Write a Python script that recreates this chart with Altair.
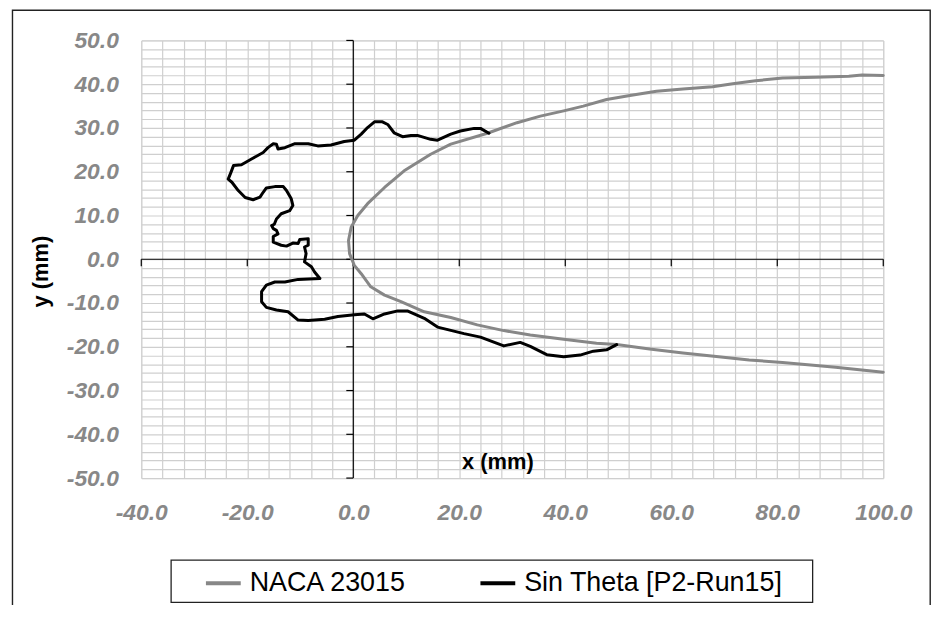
import altair as alt
import pandas as pd

# ---------------- data ----------------
X_DOMAIN = [-40, 100]
Y_DOMAIN = [-50, 50]
X_GRID = list(range(-40, 101, 4))     # minor grid every 4 mm
Y_GRID = list(range(-50, 51, 2))      # minor grid every 2 mm
X_TICKS = list(range(-40, 101, 20))   # labelled/major ticks
Y_TICKS = list(range(-50, 51, 10))

SERIES = ["NACA 23015", "Sin Theta [P2-Run15]"]
COLORS = ["#878787", "#000000"]

NACA_X = [100.0, 96.0, 93.5, 87.2, 81.0, 75.9, 71.6, 67.8, 62.2, 57.2,
          52.2, 47.8, 43.4, 39.7, 35.3, 30.9, 25.3, 18.4, 14.6, 9.6,
          5.9, 2.7, 0.85, -0.4, -0.9, -0.7, 0.2, 1.5, 3.3, 5.9,
          9.0, 13.4, 18.4, 23.4, 28.4, 33.4, 39.7, 45.9, 49.7, 55.9,
          62.2, 68.5, 74.7, 81.0, 84.7, 91.0, 100.0]
NACA_Y = [42.0, 42.1, 41.8, 41.6, 41.4, 40.8, 40.1, 39.4, 38.9, 38.4,
          37.4, 36.5, 35.0, 33.9, 32.7, 31.2, 28.8, 26.3, 24.0, 20.2,
          16.4, 12.7, 10.0, 7.3, 4.3, 1.3, -1.4, -3.3, -6.3, -8.2,
          -9.7, -12.0, -13.3, -15.0, -16.3, -17.3, -18.3, -19.2, -19.5, -20.5,
          -21.4, -22.2, -23.0, -23.6, -24.0, -24.7, -25.8]

SIN_X = [25.6, 24.0, 22.8, 20.2, 18.4, 15.9, 14.6, 12.1, 10.9, 9.3,
         7.7, 6.5, 5.5, 4.0, 2.7, 1.5, 0.2, -1.7, -4.2, -6.7,
         -8.5, -11.0, -12.9, -14.2, -14.5, -15.1, -16.1, -17.0, -19.2, -21.1,
         -22.6, -23.1, -23.6, -22.9, -21.7, -20.4, -18.9, -17.6, -17.0, -16.4,
         -14.8, -13.2, -12.6, -11.7, -11.4, -12.0, -13.6, -14.5, -14.9, -15.4,
         -15.1, -14.5, -14.2, -15.1, -15.1, -13.6, -12.6, -11.4, -10.4, -10.1,
         -8.5, -8.5, -9.2, -8.9, -9.2, -7.9, -7.3, -6.3, -10.4, -12.9,
         -14.8, -16.4, -17.3, -17.3, -16.4, -14.5, -12.3, -10.4, -8.5, -5.4,
         -2.9, 0.2, 2.1, 3.7, 5.9, 8.4, 10.2, 13.4, 15.9, 20.9,
         24.0, 28.4, 31.5, 33.4, 36.5, 39.7, 42.8, 45.3, 47.8, 49.7]
SIN_Y = [28.8, 29.9, 29.9, 29.3, 28.6, 27.2, 27.4, 28.3, 28.3, 28.0,
         28.9, 30.8, 31.4, 31.4, 30.1, 28.6, 27.2, 26.9, 26.1, 25.9,
         26.4, 26.4, 25.5, 25.2, 26.3, 26.4, 25.5, 24.4, 22.9, 21.6,
         21.4, 19.8, 18.3, 17.6, 15.7, 14.1, 13.6, 14.2, 15.3, 16.3,
         16.6, 16.6, 15.7, 13.8, 12.3, 11.1, 10.4, 9.2, 8.0, 7.7,
         7.0, 6.6, 5.8, 5.2, 3.9, 3.2, 3.0, 3.7, 3.6, 4.5,
         4.7, 3.2, 2.8, 1.3, -0.6, -1.7, -2.9, -4.4, -4.6, -5.2,
         -5.2, -5.9, -7.4, -9.7, -11.0, -11.6, -12.0, -13.9, -14.0, -13.7,
         -13.1, -12.7, -12.5, -13.6, -12.5, -11.8, -11.8, -13.5, -15.5, -17.0,
         -17.8, -19.8, -19.0, -19.9, -21.8, -22.3, -21.9, -21.0, -20.7, -19.5]

assert len(NACA_X) == len(NACA_Y) and len(SIN_X) == len(SIN_Y)

rows = []
for i, (x, y) in enumerate(zip(NACA_X, NACA_Y)):
    rows.append({"series": SERIES[0], "idx": i, "x": x, "y": y})
for i, (x, y) in enumerate(zip(SIN_X, SIN_Y)):
    rows.append({"series": SERIES[1], "idx": i, "x": x, "y": y})
curves = pd.DataFrame(rows)

yticks_df = pd.DataFrame({"x": [0] * len(Y_TICKS), "y": Y_TICKS})
xticks_df = pd.DataFrame({"x": X_TICKS, "y": [0] * len(X_TICKS)})
zero_df = pd.DataFrame({"x": [0], "y": [0]})
one = pd.DataFrame({"k": [0]})

FONT = "Liberation Sans"
LABEL_GRAY = "#888888"
GRID = "#cfcfcf"

xs = alt.Scale(domain=X_DOMAIN, nice=False, zero=False)
ys = alt.Scale(domain=Y_DOMAIN, nice=False, zero=False)

x_axis = alt.Axis(
    values=X_GRID, grid=True, gridColor=GRID, gridWidth=1.2,
    ticks=False, tickSize=0, domain=False,
    labelExpr="datum.value % 20 == 0 ? (datum.value < 0 ? '-' : '') + format(abs(datum.value), '.1f') : ''",
    labelFont=FONT, labelFontSize=23, labelFontWeight="bold", labelFontStyle="italic",
    labelColor=LABEL_GRAY, labelPadding=42, labelBaseline="alphabetic",
    labelOverlap=False, labelFlush=False,
    title="x (mm)", titleFont=FONT, titleFontSize=22, titleFontWeight="bold",
    titleColor="black", titleX=358, titleY=-10, titleAlign="center",
    titleBaseline="alphabetic",
)
y_axis = alt.Axis(
    values=Y_GRID, grid=True, gridColor=GRID, gridWidth=1.2,
    ticks=False, tickSize=0, domain=False,
    labelExpr="datum.value % 10 == 0 ? (datum.value < 0 ? '-' : '') + format(abs(datum.value), '.1f') : ''",
    labelFont=FONT, labelFontSize=23, labelFontWeight="bold", labelFontStyle="italic",
    labelColor=LABEL_GRAY, labelPadding=23, labelBaseline="middle", labelAlign="right",
    labelOverlap=False, labelFlush=False,
    title="y (mm)", titleFont=FONT, titleFontSize=22, titleFontWeight="bold",
    titleColor="black", titleAngle=270, titleX=-101, titleY=232,
    titleAlign="center", titleBaseline="middle",
)

X = alt.X("x:Q", scale=xs, axis=x_axis)
Y = alt.Y("y:Q", scale=ys, axis=y_axis)

# zero axes lines
h_zero = alt.Chart(zero_df).mark_rule(color="black", strokeWidth=1.2).encode(y=Y)
v_zero = alt.Chart(zero_df).mark_rule(color="black", strokeWidth=1.2).encode(x=X)

# tick marks on the zero axes
y_ticks = alt.Chart(yticks_df).mark_tick(
    orient="horizontal", size=7, thickness=1.2, xOffset=-3.5, color="black", opacity=1
).encode(x=X, y=Y)
x_ticks = alt.Chart(xticks_df).mark_tick(
    orient="vertical", size=7, thickness=1.2, yOffset=3.5, color="black", opacity=1
).encode(x=X, y=Y)

lines = alt.Chart(curves).mark_line(strokeWidth=3, strokeJoin="round", strokeCap="round").encode(
    x=X, y=Y,
    color=alt.Color(
        "series:N",
        scale=alt.Scale(domain=SERIES, range=COLORS),
        legend=alt.Legend(
            orient="none", legendX=63, legendY=526, direction="horizontal", title=None,
            symbolType="stroke", symbolSize=1225, symbolStrokeWidth=4,
            labelFont=FONT, labelFontSize=27, labelColor="black", labelOffset=7,
            columnPadding=66, padding=0, labelLimit=500,
        ),
    ),
    order="idx:Q",
)

# chart frame and legend frame (decoration)
outer = alt.Chart(one).mark_rect(fill="transparent", stroke="#222222", strokeWidth=1.4).encode(
    x=alt.value(-129.5), x2=alt.value(793.2), y=alt.value(-30.3), y2=alt.value(700)
)
legend_box = alt.Chart(one).mark_rect(fill="transparent", stroke="#222222", strokeWidth=1.3).encode(
    x=alt.value(30), x2=alt.value(675), y=alt.value(522.5), y2=alt.value(565)
)

chart = alt.layer(h_zero, v_zero, y_ticks, x_ticks, lines, outer, legend_box).properties(
    width=746, height=440,
    padding={"left": 134, "top": 31, "right": 48, "bottom": 126},
    autosize=alt.AutoSizeParams(type="none"),
).configure_view(
    stroke="#a0a0a0", strokeWidth=1.2
).configure(background="white")

chart.save("out.html", embed_options={"renderer": "svg", "actions": False})
